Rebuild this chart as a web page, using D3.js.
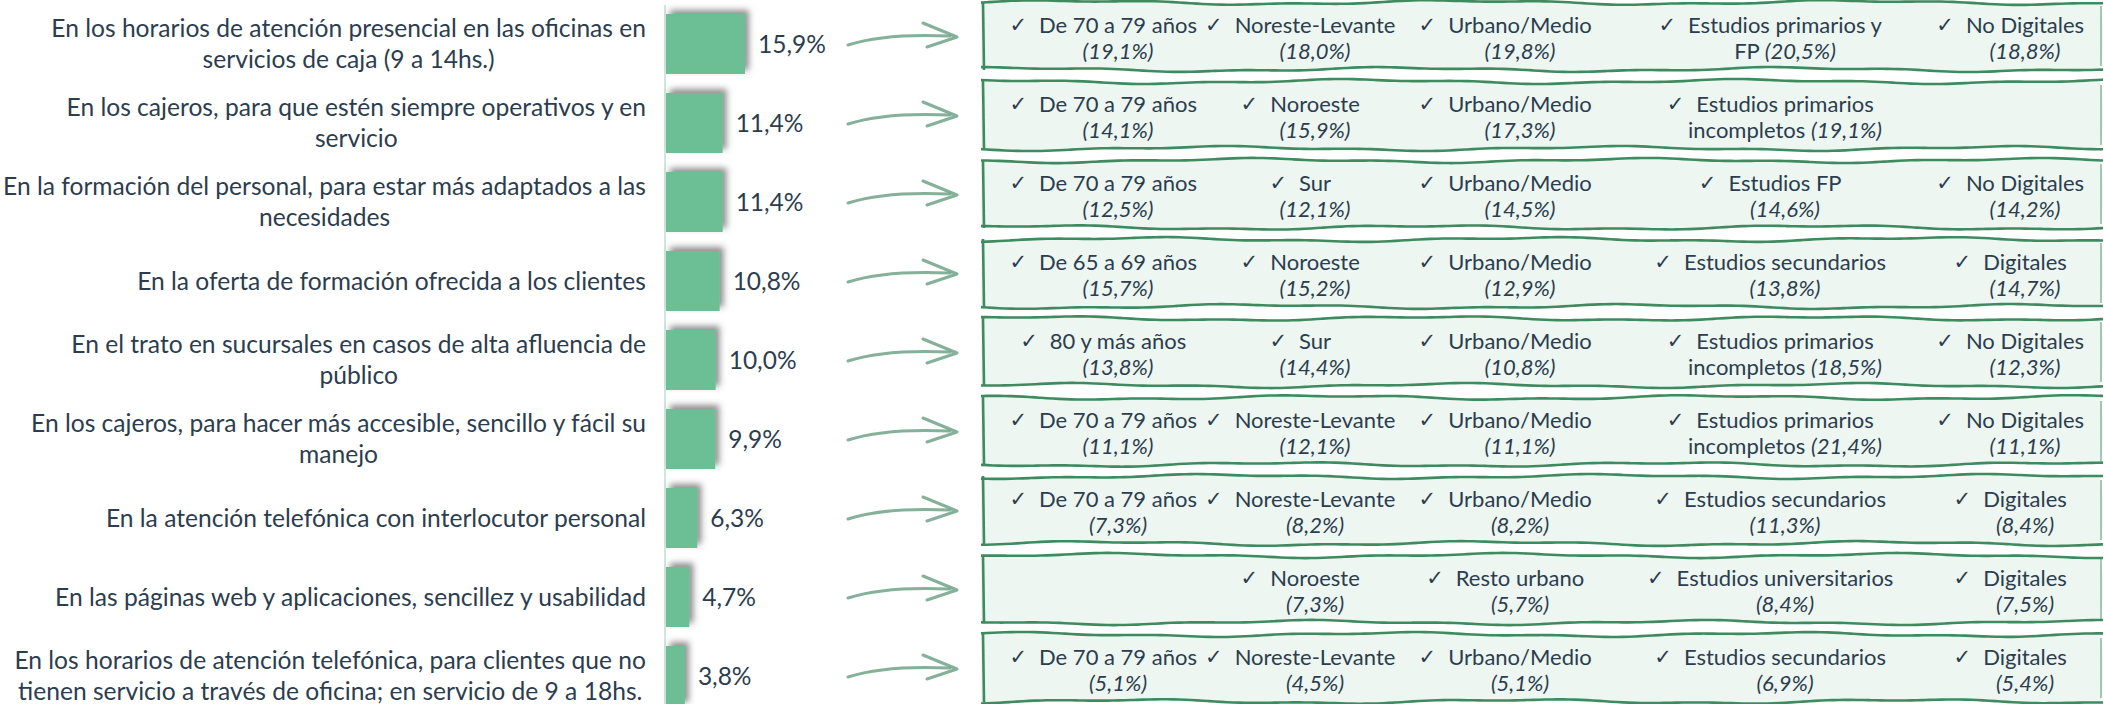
<!DOCTYPE html>
<html>
<head>
<meta charset="utf-8">
<script src="https://cdn.jsdelivr.net/npm/d3@7"></script>
<style>
  body { margin: 0; background: #fff; }
  svg { display: block; font-family: Lato, "Noto Sans", sans-serif; }
</style>
</head>
<body>
<div id="chart"></div>
<script>
// bar categories (line breaks as in the original)
var categories = [
  "En los horarios de atención presencial en las oficinas en\nservicios de caja (9 a 14hs.)",
  "En los cajeros, para que estén siempre operativos y en\nservicio",
  "En la formación del personal, para estar más adaptados a las\nnecesidades",
  "En la oferta de formación ofrecida a los clientes",
  "En el trato en sucursales en casos de alta afluencia de\npúblico",
  "En los cajeros, para hacer más accesible, sencillo y fácil su\nmanejo",
  "En la atención telefónica con interlocutor personal",
  "En las páginas web y aplicaciones, sencillez y usabilidad",
  "En los horarios de atención telefónica, para clientes que no\ntienen servicio a través de oficina; en servicio de 9 a 18hs."
];
var values = [15.9, 11.4, 11.4, 10.8, 10.0, 9.9, 6.3, 4.7, 3.8];

// profile of each row
var ageLabels = ["De 70 a 79 años", "De 70 a 79 años", "De 70 a 79 años", "De 65 a 69 años", "80 y más años",
  "De 70 a 79 años", "De 70 a 79 años", null, "De 70 a 79 años"];
var ageValues = [19.1, 14.1, 12.5, 15.7, 13.8, 11.1, 7.3, null, 5.1];

var zoneLabels = ["Noreste-Levante", "Noroeste", "Sur", "Noroeste", "Sur",
  "Noreste-Levante", "Noreste-Levante", "Noroeste", "Noreste-Levante"];
var zoneValues = [18.0, 15.9, 12.1, 15.2, 14.4, 12.1, 8.2, 7.3, 4.5];

var habitatLabels = ["Urbano/Medio", "Urbano/Medio", "Urbano/Medio", "Urbano/Medio", "Urbano/Medio",
  "Urbano/Medio", "Urbano/Medio", "Resto urbano", "Urbano/Medio"];
var habitatValues = [19.8, 17.3, 14.5, 12.9, 10.8, 11.1, 8.2, 5.7, 5.1];

var studiesLabels = ["Estudios primarios y\nFP", "Estudios primarios\nincompletos", "Estudios FP", "Estudios secundarios",
  "Estudios primarios\nincompletos", "Estudios primarios\nincompletos", "Estudios secundarios",
  "Estudios universitarios", "Estudios secundarios"];
var studiesValues = [20.5, 19.1, 14.6, 13.8, 18.5, 21.4, 11.3, 8.4, 6.9];

var digitalLabels = ["No Digitales", null, "No Digitales", "Digitales", "No Digitales",
  "No Digitales", "Digitales", "Digitales", "Digitales"];
var digitalValues = [18.8, null, 14.2, 14.7, 12.3, 11.1, 8.4, 7.5, 5.4];

var columns = [
  { labels: ageLabels, values: ageValues, cx: 1118 },
  { labels: zoneLabels, values: zoneValues, cx: 1315 },
  { labels: habitatLabels, values: habitatValues, cx: 1520 },
  { labels: studiesLabels, values: studiesValues, cx: 1785 },
  { labels: digitalLabels, values: digitalValues, cx: 2025 }
];

var svgWidth = 2104;
var svgHeight = 704;
var textColor = "#2b3d4f";

var es = d3.formatLocale({ decimal: ",", thousands: ".", grouping: [3], currency: ["", "€"] });
var fmt = es.format(".1f");

var svg = d3.select("#chart")
  .append("svg")
  .attr("width", svgWidth)
  .attr("height", svgHeight);

svg.append("rect").attr("width", svgWidth).attr("height", svgHeight).attr("fill", "#fff");

// shadow for bars
var shadow = svg.append("defs").append("filter")
  .attr("id", "shadow")
  .attr("x", "-50%").attr("y", "-50%")
  .attr("width", "200%").attr("height", "200%");
shadow.append("feDropShadow")
  .attr("dx", 4).attr("dy", -4)
  .attr("stdDeviation", 3)
  .attr("flood-color", "#444")
  .attr("flood-opacity", 0.6);

var x = d3.scaleLinear().domain([0, 16]).range([666, 745.5]);
var y = d3.scaleBand().domain(categories).range([14, 706]).paddingInner(19 / 79);
var mid = function(d) { return y(d) + y.bandwidth() / 2; };

// axis line
svg.append("line")
  .attr("x1", 665).attr("x2", 665)
  .attr("y1", 5).attr("y2", svgHeight)
  .attr("stroke", "#cfe8db")
  .attr("stroke-width", 2);

// bars
svg.append("g").selectAll("rect")
  .data(categories)
  .enter()
  .append("rect")
  .attr("x", x(0))
  .attr("y", d => y(d))
  .attr("width", (d, i) => x(values[i]) - x(0))
  .attr("height", y.bandwidth())
  .attr("fill", "#6cbf95")
  .attr("filter", "url(#shadow)");

// value labels
svg.append("g").selectAll("text")
  .data(categories)
  .enter()
  .append("text")
  .attr("x", (d, i) => x(values[i]) + 13)
  .attr("y", d => mid(d))
  .attr("dy", "0.35em")
  .attr("font-size", 24.5)
  .attr("fill", textColor)
  .text((d, i) => fmt(values[i]) + "%");

// category labels, centred block that ends at the axis
var labelRight = 646;
categories.forEach(function(cat) {
  var lines = cat.split("\n");
  var c = mid(cat);
  var t = svg.append("text")
    .attr("font-size", 24.6)
    .attr("fill", textColor)
    .attr("text-anchor", "middle");
  var spans = lines.map(function(line, j) {
    return t.append("tspan")
      .attr("y", c + (j - (lines.length - 1) / 2) * 30.5)
      .attr("dy", "0.35em")
      .text(line);
  });
  var maxW = d3.max(spans, s => s.node().getComputedTextLength());
  spans.forEach(s => s.attr("x", Math.max(labelRight - maxW / 2, maxW / 2)));
});

// hand drawn arrows
var arrows = svg.append("g")
  .attr("fill", "none")
  .attr("stroke", "#78a78e")
  .attr("stroke-opacity", 0.9)
  .attr("stroke-width", 3)
  .attr("stroke-linecap", "round")
  .attr("stroke-linejoin", "round");
categories.forEach(function(cat) {
  var c = mid(cat);
  arrows.append("path").attr("d", `M848,${c + 1} Q885,${c - 11} 950,${c - 8}`);
  arrows.append("path").attr("d", `M923,${c - 21} L957,${c - 7} L927,${c + 3}`);
});

// wobbly boxes
var boxLeft = 983, boxRight = 2101;
function edge(x0, x1, yy, s) {
  var pts = [];
  for (var xx = x0; xx <= x1; xx += 6) {
    pts.push([xx, yy + 1.8 * Math.sin(xx / 62 + s) + 0.8 * Math.sin(xx / 21 + 2.3 * s)]);
  }
  return pts;
}
var line = d3.line().curve(d3.curveBasis);
var boxes = svg.append("g");
categories.forEach(function(cat, i) {
  var bc = mid(cat) - 8;
  var top = edge(boxLeft - 2, boxRight + 2, bc - 33.5, i * 1.7);
  var bot = edge(boxLeft - 2, boxRight + 2, bc + 33.5, i * 2.9 + 1);
  boxes.append("path")
    .attr("d", line(top.concat(bot.slice().reverse())) + "Z")
    .attr("fill", "#edf6f1");
  [top, bot].forEach(function(p) {
    boxes.append("path").attr("d", line(p))
      .attr("fill", "none").attr("stroke", "#3e8b60").attr("stroke-width", 2.6);
  });
  boxes.append("path")
    .attr("d", `M${boxLeft},${bc - 34} L${boxLeft + 1},${bc + 34}`)
    .attr("fill", "none").attr("stroke", "#3e8b60").attr("stroke-width", 2.6);
  boxes.append("path")
    .attr("d", `M${boxRight},${bc - 30} L${boxRight},${bc + 30}`)
    .attr("fill", "none").attr("stroke", "#3e8b60").attr("stroke-width", 1.5).attr("stroke-opacity", 0.6);

  // cells
  columns.forEach(function(col) {
    var lab = col.labels[i];
    if (lab == null) return;
    var parts = lab.split("\n");
    var pct = "(" + fmt(col.values[i]) + "%)";
    var lines = parts.map(p => ({ text: p, pct: null }));
    if (parts.length > 1) lines[lines.length - 1].pct = pct;
    else lines.push({ text: "", pct: pct });
    var firstW = 0;
    lines.forEach(function(l, j) {
      var t = boxes.append("text")
        .attr("x", col.cx)
        .attr("y", bc - 3 + j * 26)
        .attr("font-size", 22)
        .attr("fill", textColor)
        .attr("text-anchor", "middle");
      if (l.text) t.append("tspan").text(l.text + (l.pct ? " " : ""));
      if (l.pct) t.append("tspan").attr("font-style", "italic").text(l.pct);
      if (j === 0) firstW = t.node().getComputedTextLength();
    });
    boxes.append("text")
      .attr("x", col.cx - firstW / 2 - 12)
      .attr("y", bc - 4)
      .attr("font-size", 21)
      .attr("font-family", "DejaVu Sans")
      .attr("fill", textColor)
      .attr("text-anchor", "end")
      .text("✓");
  });
});
</script>
</body>
</html>
